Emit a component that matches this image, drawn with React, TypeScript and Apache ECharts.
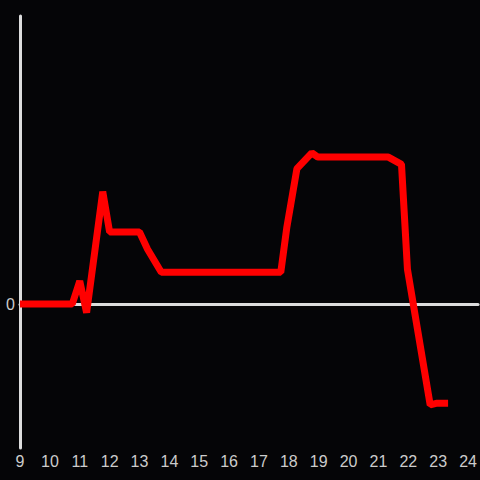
import React, { useEffect, useRef } from "react";
import * as echarts from "echarts";

const times = [9, 10.75, 11.0, 11.23, 11.77, 12.0, 13.0, 13.27, 13.73, 17.73, 17.93, 18.27, 18.77, 18.97, 21.33, 21.77, 21.97, 22.73, 22.93, 23.33];
const values = [0, 0, 16, -6, 78, 50, 50, 38, 22, 22, 53, 94, 105, 102, 102, 97, 24, -70, -69, -69];

export default function App() {
  const ref = useRef<HTMLDivElement>(null);
  useEffect(() => {
    if (!ref.current) return;
    const chart = echarts.init(ref.current, undefined, { renderer: "svg" });
    const data = times.map((t, i) => [t, values[i]]);
    const base = {
      type: "value",
      min: 9,
      max: 24.333,
      interval: 1,
      axisTick: { show: false },
      splitLine: { show: false },
    };
    const font = "'Liberation Sans', Arial, sans-serif";
    chart.setOption({
      animation: false,
      backgroundColor: "#050507",
      grid: { left: 20, right: 0, top: 16, bottom: 32, containLabel: false },
      xAxis: [
        {
          ...base,
          position: "bottom",
          axisLine: { show: false, onZero: false },
          axisLabel: {
            color: "#cccccc",
            fontSize: 16,
            fontFamily: font,
            margin: 5,
            showMaxLabel: false,
            formatter: (v: number) => (Number.isInteger(v) ? String(v) : ""),
          },
        },
        {
          ...base,
          position: "bottom",
          axisLine: { show: true, onZero: true, lineStyle: { color: "#dddddd", width: 3 } },
          axisLabel: { show: false },
        },
      ],
      yAxis: {
        type: "value",
        min: -100,
        max: 200,
        interval: 100,
        axisLine: { show: true, onZero: false, lineStyle: { color: "#dddddd", width: 3 } },
        axisTick: { show: false },
        splitLine: { show: false },
        axisLabel: {
          color: "#cccccc",
          fontSize: 16,
          fontFamily: font,
          margin: 5,
          formatter: (v: number) => (v === 0 ? "0" : ""),
        },
      },
      series: [
        {
          type: "line",
          data,
          xAxisIndex: 0,
          z: 3,
          showSymbol: false,
          symbol: "none",
          lineStyle: { color: "#ff0000", width: 7 },
        },
      ],
    });
    return () => chart.dispose();
  }, []);
  return <div ref={ref} style={{ position: "fixed", left: 0, top: 0, width: 480, height: 480 }} />;
}
